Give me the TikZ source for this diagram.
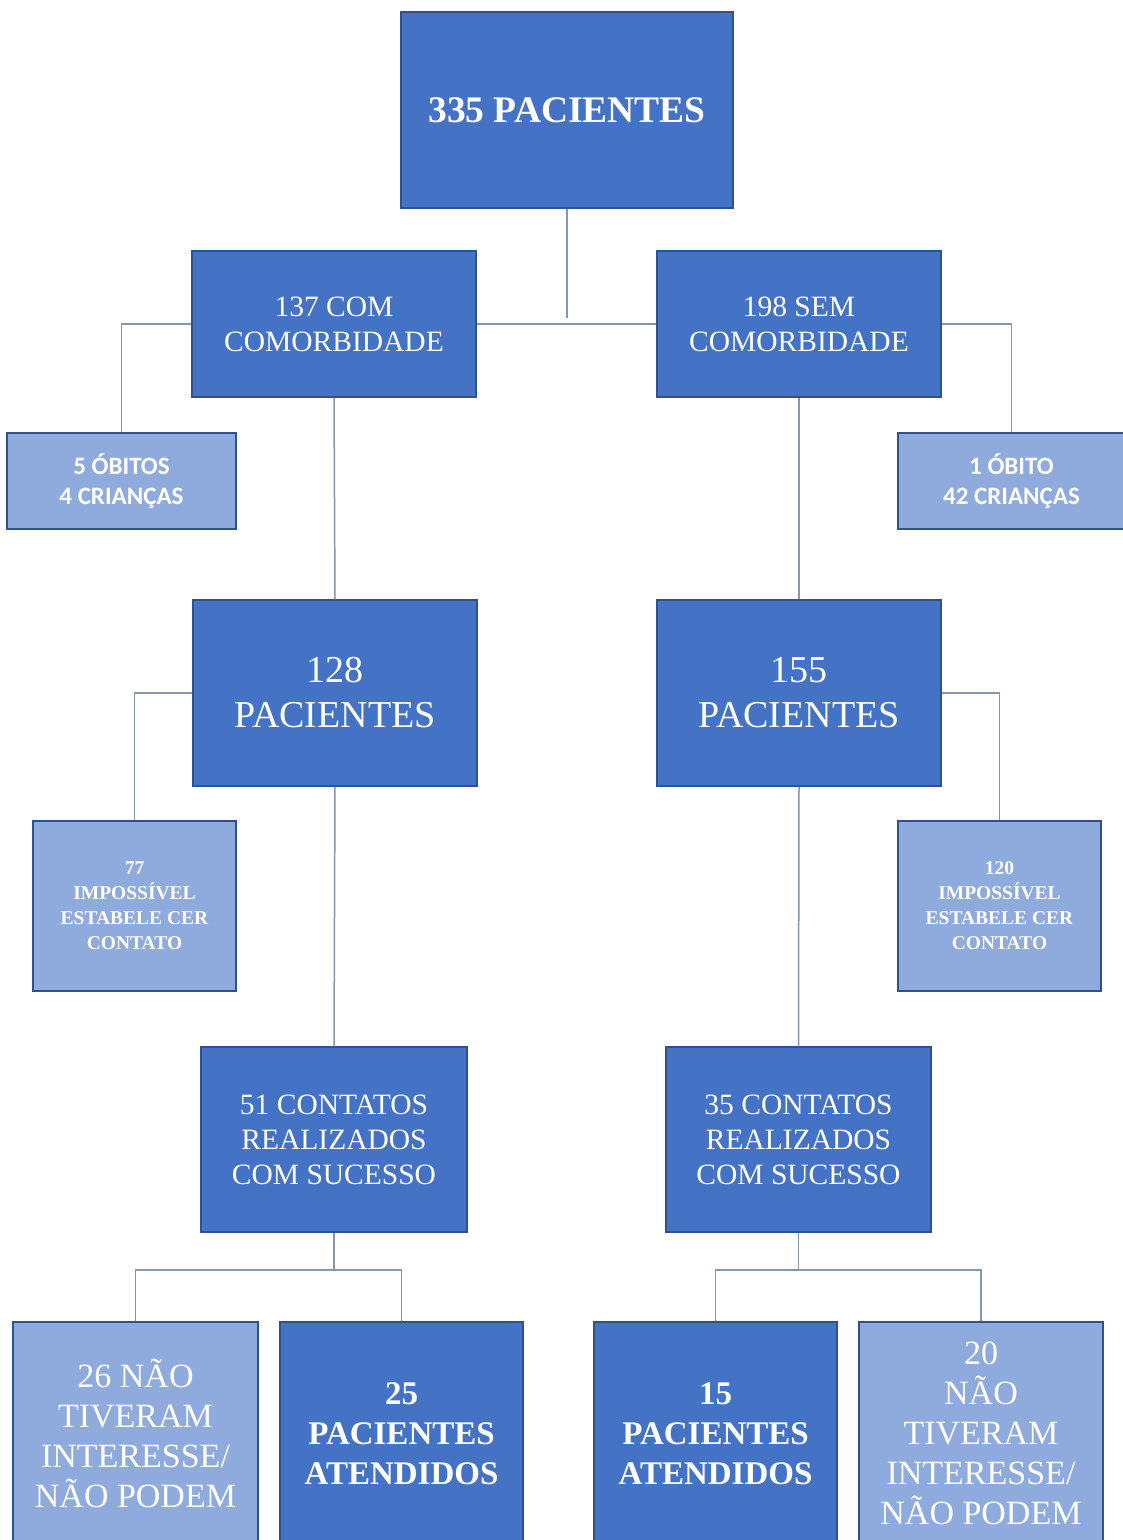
\documentclass[tikz,border=0pt]{standalone}
\usepackage{fontspec}
\setmainfont{Liberation Serif}
\newfontfamily\calibri{Carlito}
\definecolor{darkblue}{HTML}{4472C4}
\definecolor{lightblue}{HTML}{8FAADC}
\definecolor{boxline}{HTML}{2F528F}
\definecolor{linkgray}{HTML}{8497B0}
\tikzset{
  box/.style={draw=boxline, line width=1.5pt, text=white, align=center, inner sep=0pt},
  darkbox/.style={box, fill=darkblue},
  lightbox/.style={box, fill=lightblue},
  link/.style={draw=linkgray, line width=1.5pt}
}
\begin{document}
\begin{tikzpicture}[x=1pt,y=-1pt]
  \path[use as bounding box, clip] (0,0) rectangle (1123,1540);
  \fill[white] (0,0) rectangle (1123,1540);
  % level 0
  \node[darkbox, minimum width=332, minimum height=196, font=\fontsize{37.5}{44}\selectfont\bfseries] (total) at (567,110) {335 PACIENTES};
  % level 1
  \node[darkbox, minimum width=284, minimum height=146, font=\fontsize{29.5}{35}\selectfont] (com) at (334,324) {137 COM\\COMORBIDADE};
  \node[darkbox, minimum width=284, minimum height=146, font=\fontsize{29.5}{35}\selectfont] (sem) at (799,324) {198 SEM\\COMORBIDADE};
  \node[lightbox, minimum width=229, minimum height=96, font=\fontsize{25}{30}\selectfont\calibri\bfseries] (obcom) at (121.5,481) {5 ÓBITOS\\4 CRIANÇAS};
  \node[lightbox, minimum width=227, minimum height=96, font=\fontsize{25}{30}\selectfont\calibri\bfseries] (obsem) at (1011.5,481) {1 ÓBITO\\42 CRIANÇAS};
  % level 2
  \node[darkbox, minimum width=284, minimum height=186, font=\fontsize{38}{45}\selectfont] (p128) at (335,693) {128\\PACIENTES};
  \node[darkbox, minimum width=284, minimum height=186, font=\fontsize{38}{45}\selectfont] (p155) at (799,693) {155\\PACIENTES};
  \node[lightbox, minimum width=203, minimum height=170, font=\fontsize{19.5}{25}\selectfont\bfseries] (imp77) at (134.5,906) {77\\IMPOSSÍVEL\\ESTABELE CER\\CONTATO};
  \node[lightbox, minimum width=203, minimum height=170, font=\fontsize{19.5}{25}\selectfont\bfseries] (imp120) at (999.5,906) {120\\IMPOSSÍVEL\\ESTABELE CER\\CONTATO};
  % level 3
  \node[darkbox, minimum width=266, minimum height=185, font=\fontsize{29.5}{35}\selectfont] (ok51) at (334,1139.5) {51 CONTATOS\\REALIZADOS\\COM SUCESSO};
  \node[darkbox, minimum width=265, minimum height=185, font=\fontsize{29.5}{35}\selectfont] (ok35) at (798.5,1139.5) {35 CONTATOS\\REALIZADOS\\COM SUCESSO};
  % level 4
  \node[lightbox, minimum width=245, minimum height=223, font=\fontsize{34}{40}\selectfont] (no26) at (135.5,1433.5) {26 NÃO\\TIVERAM\\INTERESSE/\\NÃO PODEM};
  \node[darkbox, minimum width=243, minimum height=223, font=\fontsize{33}{40}\selectfont\bfseries] (at25) at (401.5,1433.5) {25\\PACIENTES\\ATENDIDOS};
  \node[darkbox, minimum width=243, minimum height=223, font=\fontsize{33}{40}\selectfont\bfseries] (at15) at (715.5,1433.5) {15\\PACIENTES\\ATENDIDOS};
  \node[lightbox, minimum width=244, minimum height=223, font=\fontsize{34}{40}\selectfont] (no20) at (981,1433.5) {20\\NÃO\\TIVERAM\\INTERESSE/\\NÃO PODEM};
  % connectors
  \coordinate (jtop) at (567,318);
  \coordinate (j51) at (334,1270);
  \coordinate (j35) at (798.5,1270);
  \draw[link] (total.south) -- (jtop);
  \draw[link] (com.east) -- (sem.west);
  \draw[link] (com.west) -| (obcom.north);
  \draw[link] (sem.east) -| (obsem.north);
  \draw[link] (com.south) -- (p128.north);
  \draw[link] (sem.south) -- (p155.north);
  \draw[link] (p128.west) -| (imp77.north);
  \draw[link] (p155.east) -| (imp120.north);
  \draw[link] (p128.south) -- (ok51.north);
  \draw[link] (p155.south) -- (ok35.north);
  \draw[link] (ok51.south) -- (j51);
  \draw[link] (no26.north) |- (j51) -| (at25.north);
  \draw[link] (ok35.south) -- (j35);
  \draw[link] (at15.north) |- (j35) -| (no20.north);
\end{tikzpicture}
\end{document}
